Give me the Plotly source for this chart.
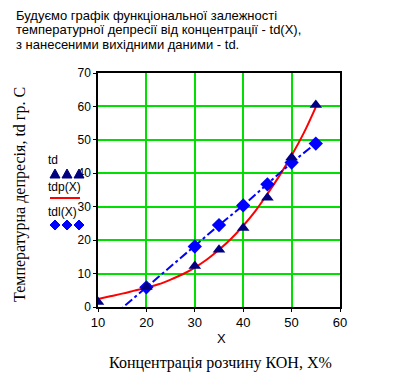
import plotly.graph_objects as go

# Measured data (td) and linear fit (tdl) at X
X = [10, 20, 30, 35, 40, 45, 50, 55]
td = [1.5, 6.0, 12.3, 17.1, 23.6, 32.7, 44.7, 60.4]
tdl = [-6.5, 5.9, 18.1, 24.5, 30.4, 36.7, 43.2, 48.9]

# Polynomial approximation curve tdp(X)
Xc = [10, 12.5, 15, 17.5, 20, 22.5, 25, 27.5, 30, 32.5, 35, 37.5, 40, 42.5, 45, 47.5, 50, 52.5, 55]
tdp = [2.4, 3.2, 4.0, 4.9, 5.8, 6.8, 8.2, 9.8, 11.8, 14.2, 17.1, 20.4, 24.3, 28.7, 33.8, 39.3, 45.3, 52.0, 59.8]

x_ticks = [10, 20, 30, 40, 50, 60]
y_ticks = [0, 10, 20, 30, 40, 50, 60, 70]

title_lines = [
    "Будуємо графік функціональної залежності",
    "температурної депресії від концентрації - td(X),",
    "з нанесеними вихідними даними - td.",
]

fig = go.Figure()
fig.add_trace(go.Scatter(x=Xc, y=tdp, mode="lines", line=dict(color="#ff0000", width=2, shape="spline"),
                         name="tdp(X)", showlegend=False))
fig.add_trace(go.Scatter(x=X, y=tdl, mode="lines+markers",
                         line=dict(color="#0000ff", width=2, dash="dashdot"),
                         marker=dict(symbol="diamond", size=11, color="#0000ff"),
                         name="tdl(X)", showlegend=False))
fig.add_trace(go.Scatter(x=X, y=td, mode="markers",
                         marker=dict(symbol="triangle-up", size=11, color="#000080"),
                         name="td", showlegend=False))

sans = "Liberation Sans, Arial, sans-serif"
serif = "Liberation Serif, Times New Roman, serif"

W, H = 396, 380
L, R, T, B = 98, 56, 73, 73
pw, ph = W - L - R, H - T - B

def px(xp):
    return (xp - L) / pw

def py(yp):
    return (H - B - yp) / ph

annotations = []
for i, t in enumerate(title_lines):
    annotations.append(dict(text=t, x=px(14), y=py(15 + i * 14.5), xref="paper", yref="paper",
                            xanchor="left", yanchor="middle", showarrow=False,
                            font=dict(family=sans, size=13, color="black")))

leg_text = [("td", 160), ("tdp(X)", 187), ("tdl(X)", 212)]
for t, yy in leg_text:
    annotations.append(dict(text=t, x=px(47), y=py(yy), xref="paper", yref="paper",
                            xanchor="left", yanchor="middle", showarrow=False, borderpad=0,
                            font=dict(family=sans, size=12, color="black")))

annotations.append(dict(text="Температурна депресія, td гр. С", x=px(20), y=py(195),
                        xref="paper", yref="paper", xanchor="center", yanchor="middle",
                        textangle=-90, showarrow=False, font=dict(family=serif, size=16, color="black")))
annotations.append(dict(text="X", x=px(221), y=py(338), xref="paper", yref="paper",
                        xanchor="center", yanchor="middle", showarrow=False,
                        font=dict(family=sans, size=13, color="black")))
annotations.append(dict(text="Концентрація розчину КОН, Х%", x=px(220), y=py(363), xref="paper", yref="paper",
                        xanchor="center", yanchor="middle", showarrow=False,
                        font=dict(family=serif, size=16, color="black")))

shapes = [dict(type="line", xref="paper", yref="paper", x0=px(50), x1=px(80), y0=py(198), y1=py(198),
               line=dict(color="#ff0000", width=2))]

def tri(cx, cy, s=5):
    return (f"M {px(cx - s)} {py(cy + 4)} L {px(cx + s)} {py(cy + 4)} "
            f"L {px(cx)} {py(cy - 5)} Z")

def dia(cx, cy, s=5):
    return (f"M {px(cx - s)} {py(cy)} L {px(cx)} {py(cy - s)} "
            f"L {px(cx + s)} {py(cy)} L {px(cx)} {py(cy + s)} Z")

for k in range(3):
    cx = 55 + 12 * k
    shapes.append(dict(type="path", xref="paper", yref="paper", path=tri(cx, 174),
                       fillcolor="#000080", line=dict(color="#000080", width=1)))
    shapes.append(dict(type="path", xref="paper", yref="paper", path=dia(cx, 225),
                       fillcolor="#0000ff", line=dict(color="#0000ff", width=1)))

fig.update_layout(
    width=W, height=H, margin=dict(l=L, r=R, t=T, b=B),
    paper_bgcolor="white", plot_bgcolor="white",
    annotations=annotations, shapes=shapes, showlegend=False,
    xaxis=dict(range=[10, 60], tickvals=x_ticks, showgrid=True, gridcolor="#00e000", gridwidth=1.5,
               zeroline=False, showline=True, linecolor="black", linewidth=1.5, mirror=True,
               ticks="outside", ticklen=3, tickcolor="black",
               tickfont=dict(family=sans, size=13, color="black")),
    yaxis=dict(range=[0, 70], tickvals=y_ticks, showgrid=True, gridcolor="#00e000", gridwidth=1.5,
               zeroline=False, showline=True, linecolor="black", linewidth=1.5, mirror=True,
               ticks="outside", ticklen=3, tickcolor="black",
               tickfont=dict(family=sans, size=12, color="black")),
)

fig.write_html("out.html", config={"displayModeBar": False},
               post_script="document.body.style.margin='0';")
